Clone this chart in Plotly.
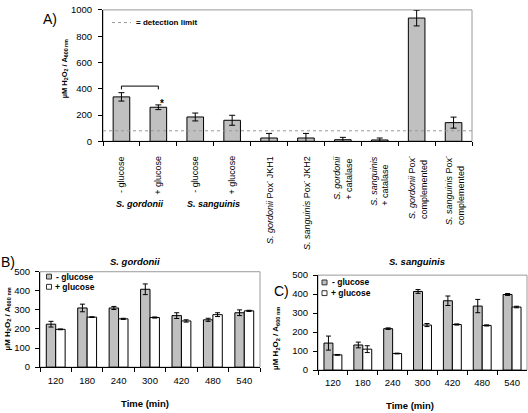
import plotly.graph_objects as go

# ---------------- data ----------------
a_labels = [
    "- glucose", "+ glucose", "- glucose", "+ glucose",
    "<i>S. gordonii</i> Pox<sup>-</sup> JKH1",
    "<i>S. sanguinis</i> Pox<sup>-</sup> JKH2",
    "<i>S. gordonii</i><br>+ catalase",
    "<i>S. sanguinis</i><br>+ catalase",
    "<i>S. gordonii</i> Pox<sup>-</sup><br>complemented",
    "<i>S. sanguinis</i> Pox<sup>-</sup><br>complemented",
]
a_keys = ["g-", "g+", "s-", "s+", "gJKH1", "sJKH2", "gcat", "scat", "gcomp", "scomp"]
a_values = [338, 259, 185, 160, 25, 25, 12, 10, 938, 142]
a_errors = [32, 18, 30, 38, 35, 35, 18, 15, 60, 42]
detection_limit = 80
bracket_level = [395, 420, 420, 395]
group_labels = ["S. gordonii", "S. sanguinis"]

times = ["120", "180", "240", "300", "420", "480", "540"]
b_minus = [225, 310, 310, 408, 270, 248, 285]
b_minus_err = [15, 20, 8, 28, 15, 8, 15]
b_plus = [198, 262, 253, 260, 242, 275, 295]
b_plus_err = [2, 2, 3, 3, 6, 10, 3]

c_minus = [142, 132, 218, 414, 365, 337, 398]
c_minus_err = [37, 15, 4, 10, 25, 35, 5]
c_plus = [80, 110, 87, 237, 240, 235, 332]
c_plus_err = [2, 18, 2, 8, 3, 3, 4]

# ---------------- layout helpers ----------------
W, H = 528, 413
def px(x):
    return x / W
def py(y):
    return 1 - y / H

FONT = "Arial, Liberation Sans, sans-serif"
GRAY = "#c0c0c0"
FRAME = "#9a9a9a"
ytitle = "<b>µM H<sub>2</sub>O<sub>2</sub> / A<sub>600 nm</sub></b>"

fig = go.Figure()

# Panel A
fig.add_trace(go.Bar(
    x=a_keys, y=a_values, width=0.45,
    marker=dict(color=GRAY, line=dict(color="black", width=1)),
    error_y=dict(type="data", array=a_errors, color="black", thickness=1, width=3),
    xaxis="x", yaxis="y", showlegend=False))
fig.add_trace(go.Scatter(
    x=[a_keys[0], a_keys[0], a_keys[1], a_keys[1]], y=bracket_level,
    mode="lines", line=dict(color="black", width=1),
    xaxis="x", yaxis="y", showlegend=False, hoverinfo="skip"))

# Panel B
fig.add_trace(go.Bar(
    x=times, y=b_minus, name="- glucose",
    marker=dict(color=GRAY, line=dict(color="black", width=1)),
    error_y=dict(type="data", array=b_minus_err, color="black", thickness=1, width=2.5),
    xaxis="x2", yaxis="y2", showlegend=False))
fig.add_trace(go.Bar(
    x=times, y=b_plus, name="+ glucose",
    marker=dict(color="white", line=dict(color="black", width=1)),
    error_y=dict(type="data", array=b_plus_err, color="black", thickness=1, width=2.5),
    xaxis="x2", yaxis="y2", showlegend=False))

# Panel C
fig.add_trace(go.Bar(
    x=times, y=c_minus, name="- glucose",
    marker=dict(color=GRAY, line=dict(color="black", width=1)),
    error_y=dict(type="data", array=c_minus_err, color="black", thickness=1, width=2.5),
    xaxis="x3", yaxis="y3", showlegend=False))
fig.add_trace(go.Bar(
    x=times, y=c_plus, name="+ glucose",
    marker=dict(color="white", line=dict(color="black", width=1)),
    error_y=dict(type="data", array=c_plus_err, color="black", thickness=1, width=2.5),
    xaxis="x3", yaxis="y3", showlegend=False))

axis_common = dict(showgrid=False, zeroline=False, showline=True,
                   ticks="outside", ticklen=4, tickcolor="black", linecolor="black",
                   tickfont=dict(family=FONT, size=9.5, color="black"))

fig.update_layout(
    width=W, height=H, margin=dict(l=0, r=0, t=0, b=0),
    paper_bgcolor="white", plot_bgcolor="white",
    barmode="group", bargap=0.4, bargroupgap=0,
    font=dict(family=FONT, color="black"),
    xaxis=dict(domain=[px(103), px(472)], anchor="y", type="category",
               range=[-0.5, 9.5], tickson="boundaries", showticklabels=False, **axis_common),
    yaxis=dict(domain=[py(139), py(4)], anchor="x", range=[0, 1000], dtick=200,
               ticklabelstandoff=4, **axis_common),
    xaxis2=dict(domain=[px(40), px(260)], anchor="y2", type="category",
                range=[-0.5, 6.5], tickson="boundaries", ticklabelstandoff=4, **axis_common),
    yaxis2=dict(domain=[py(371), py(273)], anchor="x2", range=[0, 500], dtick=100,
                ticklabelstandoff=3, **axis_common),
    xaxis3=dict(domain=[px(318), px(527)], anchor="y3", type="category",
                range=[-0.5, 6.5], tickson="boundaries", ticklabelstandoff=4, **axis_common),
    yaxis3=dict(domain=[py(374), py(276.5)], anchor="x3", range=[0, 500], dtick=100,
                ticklabelstandoff=3, **axis_common),
)

shapes = []
for xr, yr in (("x", "y"), ("x2", "y2"), ("x3", "y3")):
    shapes.append(dict(type="rect", xref=xr + " domain", yref=yr + " domain",
                       x0=0, x1=1, y0=0, y1=1, line=dict(color=FRAME, width=1), layer="below"))
shapes.append(dict(type="line", xref="x domain", yref="y", x0=0, x1=1,
                   y0=detection_limit, y1=detection_limit,
                   line=dict(color="#999999", width=1, dash="dot")))
# legend keys
shapes.append(dict(type="line", xref="paper", yref="paper", x0=px(112), x1=px(131),
                   y0=py(17), y1=py(17), line=dict(color="#999999", width=1, dash="dot")))
for (cx, cy, fill) in ((49, 278, GRAY), (49, 288.5, "white"), (324.5, 284, GRAY), (324.5, 295, "white")):
    shapes.append(dict(type="rect", xref="paper", yref="paper",
                       x0=px(cx - 2.5), x1=px(cx + 2.5), y0=py(cy + 2.5), y1=py(cy - 2.5),
                       fillcolor=fill, line=dict(color="#333333", width=1)))
fig.update_layout(shapes=shapes)

def txt(x, y, t, size, xanchor="center", angle=0):
    return dict(x=px(x), y=py(y), xref="paper", yref="paper", text=t, showarrow=False,
                xanchor=xanchor, yanchor="middle", textangle=angle,
                font=dict(family=FONT, size=size, color="black"))

ann = []
# A category labels
for i, lab in enumerate(a_labels):
    ann.append(dict(x=i, y=py(152), xref="x", yref="paper", text=lab, showarrow=False,
                    textangle=-90, xanchor="center", yanchor="top", align="left",
                    font=dict(family=FONT, size=9, color="black")))
for i, g in enumerate(group_labels):
    ann.append(dict(x=0.5 + 2 * i, y=py(203), xref="x", yref="paper",
                    text="<b><i>%s</i></b>" % g, showarrow=False,
                    xanchor="center", yanchor="middle",
                    font=dict(family=FONT, size=9, color="black")))
ann.append(dict(x=a_keys[1], y=a_values[1] + a_errors[1] + 14, xref="x", yref="y", text="<b>*</b>",
                showarrow=False, xshift=4, xanchor="center", yanchor="middle",
                font=dict(family=FONT, size=10, color="black")))
ann.append(txt(134, 17, "<b>= detection limit</b>", 8, xanchor="left"))
# legends B, C
for (x, y, t) in ((54, 278, "- glucose"), (53, 288.5, "+ glucose"),
                  (330, 284, "- glucose"), (329, 295, "+ glucose")):
    ann.append(txt(x, y, "<b>%s</b>" % t, 8.5, xanchor="left"))
# panel letters
for (x, y, t) in ((50, 13, "A)"), (8, 263, "B)"), (281, 293, "C)")):
    ann.append(txt(x, y, t, 14))
# y titles
for (x, y, s) in ((65, 64, 7.5), (8, 322, 8), (276, 342, 8)):
    ann.append(txt(x, y, ytitle, s, angle=-90))
# panel titles
for (x, y, t) in ((135, 262, "S. gordonii"), (417, 262, "S. sanguinis")):
    ann.append(txt(x, y, "<b><i>%s</i></b>" % t, 9.5))
# x titles
for (x, y) in ((145, 408), (410, 410)):
    ann.append(txt(x, y, "<b>Time (min)</b>", 9.5))
fig.update_layout(annotations=ann)

fig.write_html("out.html", config={"displayModeBar": False},
               post_script="document.body.style.margin='0';document.body.style.overflow='hidden';")
